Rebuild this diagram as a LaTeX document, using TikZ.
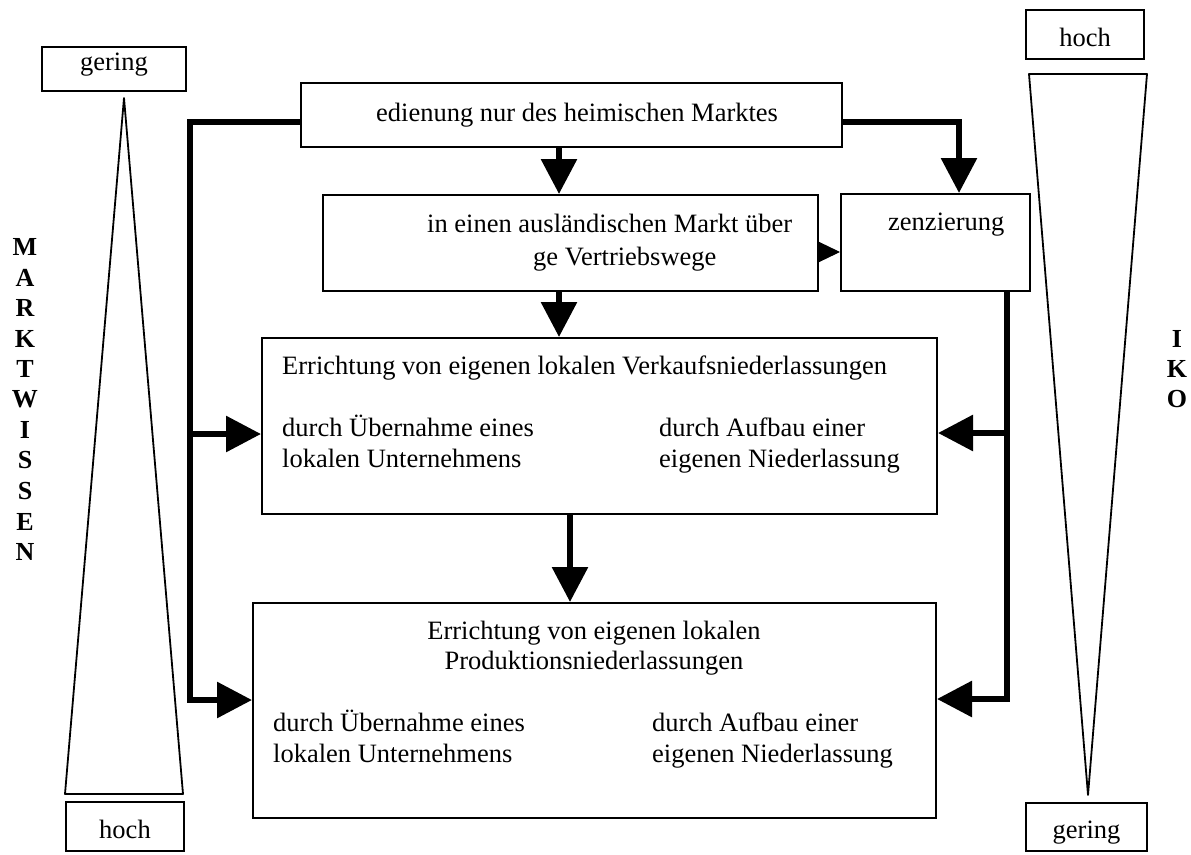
\documentclass[tikz,border=0pt]{standalone}
\usepackage{fontspec}
\setmainfont{Liberation Serif}
\usetikzlibrary{arrows.meta}
\begin{document}
\begin{tikzpicture}[x=1pt,y=-1pt,
  box/.style={draw, line width=2pt, inner sep=0pt},
  txt/.style={inner sep=0pt, anchor=base west, font=\fontsize{26.5}{31}\selectfont},
  ctxt/.style={inner sep=0pt, anchor=base, font=\fontsize{26.5}{31}\selectfont},
  letter/.style={inner sep=0pt, font=\fontsize{26}{30}\selectfont\bfseries},
  conn/.style={line width=6pt, line join=miter, -{Triangle[length=35pt,width=35pt]}},
  smallconn/.style={line width=1pt, -{Triangle[length=23pt,width=22pt]}},
  wedge/.style={line width=1.8pt, line join=round}]
\useasboundingbox (0,0) rectangle (1191,854);

% label boxes
\node[box, minimum width=144pt, minimum height=44pt] (gLb) at (114,69) {};
\node[ctxt] (gL) at (114,70) {gering};
\node[box, minimum width=118pt, minimum height=49pt] (hLb) at (125,826.5) {};
\node[ctxt] (hL) at (125,838) {hoch};
\node[box, minimum width=118pt, minimum height=49pt] (hRb) at (1085,34.5) {};
\node[ctxt] (hR) at (1085,46) {hoch};
\node[box, minimum width=121pt, minimum height=48pt] (gRb) at (1086.5,827) {};
\node[ctxt] (gR) at (1086.5,838) {gering};

% wedges
\draw[wedge] (124,98) -- (183,794) -- (65,794) -- cycle;
\draw[wedge] (1029,74) -- (1147,74) -- (1088,795) -- cycle;

% vertical letters
\foreach \l [count=\i from 0] in {M,A,R,K,T,W,I,S,S,E,N}
  \node[letter] (mw\i) at (25,{247+30.5*\i}) {\l};
\foreach \l [count=\i from 0] in {I,K,O}
  \node[letter] (iko\i) at (1177,{339+30*\i}) {\l};

% main boxes
\node[box, minimum width=541pt, minimum height=64pt] (top) at (571.5,115) {};
\node[box, minimum width=495pt, minimum height=96pt] (mid) at (570.5,243) {};
\node[box, minimum width=189pt, minimum height=97pt] (zen) at (935.5,242.5) {};
\node[box, minimum width=675pt, minimum height=176pt] (big1) at (599.5,426) {};
\node[box, minimum width=683pt, minimum height=215pt] (big2) at (594.5,710.5) {};

% texts
\node[txt] (t0) at (376,121) {edienung nur des heimischen Marktes};
\node[txt] (t1a) at (427,232) {in einen ausländischen Markt über};
\node[txt] (t1b) at (533,265) {ge Vertriebswege};
\node[txt] (t2) at (888,230) {zenzierung};
\node[txt] (t3) at (282,374) {Errichtung von eigenen lokalen Verkaufsniederlassungen};
\node[txt] (t3a) at (282,436) {durch Übernahme eines};
\node[txt] (t3b) at (282,467) {lokalen Unternehmens};
\node[txt] (t3c) at (659,436) {durch Aufbau einer};
\node[txt] (t3d) at (659,467) {eigenen Niederlassung};
\node[ctxt] (t4) at (594,639) {Errichtung von eigenen lokalen};
\node[ctxt] (t4b) at (594,669) {Produktionsniederlassungen};
\node[txt] (t4c) at (273,731) {durch Übernahme eines};
\node[txt] (t4d) at (273,762) {lokalen Unternehmens};
\node[txt] (t4e) at (652,731) {durch Aufbau einer};
\node[txt] (t4f) at (652,762) {eigenen Niederlassung};

% connector coordinates
\coordinate (lA) at (190,122);
\coordinate (lB) at (190,434);
\coordinate (lC) at (190,700);
\coordinate (rA) at (959,122);
\coordinate (rB) at (1007,433);
\coordinate (rC) at (1007,699);
\coordinate (cA) at (559,0);
\coordinate (cB) at (570,0);
\coordinate (sA) at (0,252);

% connectors
\draw[conn] (top.west |- lA) -- (lA) -- (lC) -- (big2.west |- lC);
\draw[conn] (lB) -- (big1.west |- lB);
\draw[conn] (top.east |- rA) -- (rA) -- (zen.north -| rA);
\draw[conn] (zen.south -| rC) -- (rC) -- (big2.east |- rC);
\draw[conn] (rB) -- (big1.east |- rB);
\draw[conn] (top.south -| cA) -- (mid.north -| cA);
\draw[conn] (mid.south -| cA) -- (big1.north -| cA);
\draw[conn] (big1.south -| cB) -- (big2.north -| cB);
\draw[smallconn] (mid.east |- sA) -- (zen.west |- sA);
\end{tikzpicture}
\end{document}
